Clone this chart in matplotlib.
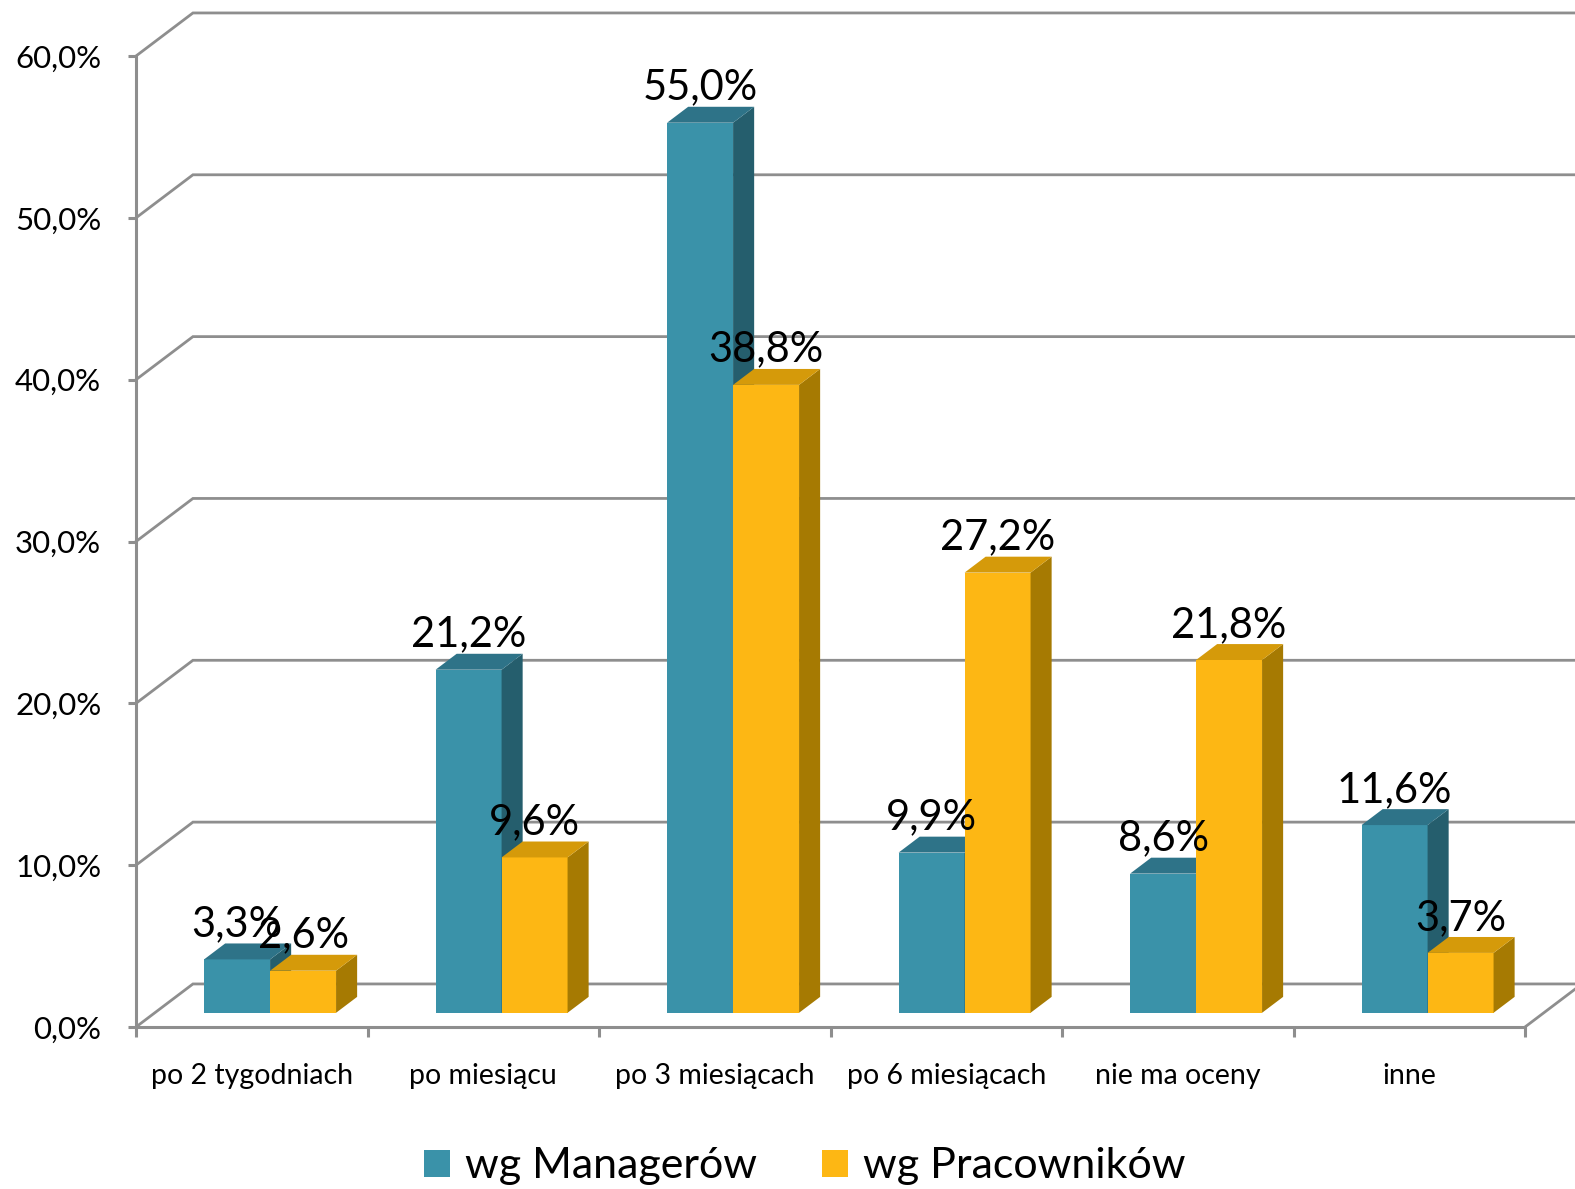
import matplotlib.pyplot as plt
from matplotlib.patches import Polygon, Patch

plt.rcParams['font.family'] = ['Lato', 'DejaVu Sans']

categories = ["po 2 tygodniach", "po miesiącu", "po 3 miesiącach",
              "po 6 miesiącach", "nie ma oceny", "inne"]
managers = [3.3, 21.2, 55.0, 9.9, 8.6, 11.6]
workers = [2.6, 9.6, 38.8, 27.2, 21.8, 3.7]
series_names = ["wg Managerów", "wg Pracowników"]
y_ticks = [0, 10, 20, 30, 40, 50, 60]

# colours: front, top, side
teal = ("#3A92A9", "#2E7388", "#255E6D")
gold = ("#FDB714", "#D59A0A", "#A67A02")
grid_col = "#8E8E8E"

# oblique depth of the chart box (in data units)
DX = 0.246
DY = 2.66
z0, z1 = 0.33, 0.70
bar_w = 0.285
bar_off = 0.213

fig = plt.figure(figsize=(15.75, 11.89), dpi=100)
ax = fig.add_axes([136 / 1575, 162 / 1189, 1389 / 1575, 971 / 1189])
ax.set_xlim(0, 6)
ax.set_ylim(0, 60)
for s in ["top", "right"]:
    ax.spines[s].set_visible(False)
for s in ["left", "bottom"]:
    ax.spines[s].set_color(grid_col)
    ax.spines[s].set_linewidth(2.2)

# back wall gridlines with the diagonal on the side wall
for v in y_ticks:
    ax.plot([0, DX, 6 + DX], [v, v + DY, v + DY], color=grid_col, lw=2.0,
            clip_on=False, zorder=1, solid_joinstyle="miter")
ax.plot([6, 6 + DX], [0, DY], color=grid_col, lw=2.0, clip_on=False, zorder=1)


def box(x0, base, h, cols):
    x1 = x0 + bar_w
    bdx = (z1 - z0) * DX
    bdy = (z1 - z0) * DY
    top = base + h
    ax.add_patch(Polygon([(x0, base), (x1, base), (x1, top), (x0, top)],
                         closed=True, fc=cols[0], ec="none", clip_on=False, zorder=3))
    ax.add_patch(Polygon([(x1, base), (x1 + bdx, base + bdy), (x1 + bdx, top + bdy), (x1, top)],
                         closed=True, fc=cols[2], ec="none", clip_on=False, zorder=3))
    ax.add_patch(Polygon([(x0, top), (x1, top), (x1 + bdx, top + bdy), (x0 + bdx, top + bdy)],
                         closed=True, fc=cols[1], ec="none", clip_on=False, zorder=3))


base = z0 * DY
for i in range(len(categories)):
    for j, (vals, cols) in enumerate([(managers, teal), (workers, gold)]):
        x0 = i + bar_off + j * bar_w + z0 * DX
        box(x0, base, vals[i], cols)
    for j, vals in enumerate([managers, workers]):
        x0 = i + bar_off + j * bar_w + z0 * DX
        ax.text(x0 + bar_w / 2, vals[i] + z1 * DY + 0.45,
                f"{vals[i]:.1f}%".replace(".", ","), ha="center", va="baseline",
                fontsize=30, color="black", zorder=5, clip_on=False)

ax.set_yticks(y_ticks)
ax.set_yticklabels([f"{v:.1f}%".replace(".", ",") for v in y_ticks], fontsize=22.5)
ax.tick_params(axis="y", direction="out", length=6, width=2.2, color=grid_col, pad=19)
ax.set_xticks(range(7))
ax.set_xticklabels([])
ax.tick_params(axis="x", which="major", direction="out", length=7, width=2.2, color=grid_col)
ax.set_xticks([i + 0.5 for i in range(6)], minor=True)
ax.set_xticklabels(categories, minor=True, fontsize=20.5)
ax.tick_params(axis="x", which="minor", length=0, pad=26)

handles = [Patch(fc=teal[0], ec="none"), Patch(fc=gold[0], ec="none")]
fig.legend(handles, series_names, loc="center", bbox_to_anchor=(0.511, 0.019),
           ncol=2, frameon=False, fontsize=31, handlelength=0.6, handleheight=0.6,
           handletextpad=0.35, columnspacing=1.5)

fig.savefig("out.png", dpi=100)
